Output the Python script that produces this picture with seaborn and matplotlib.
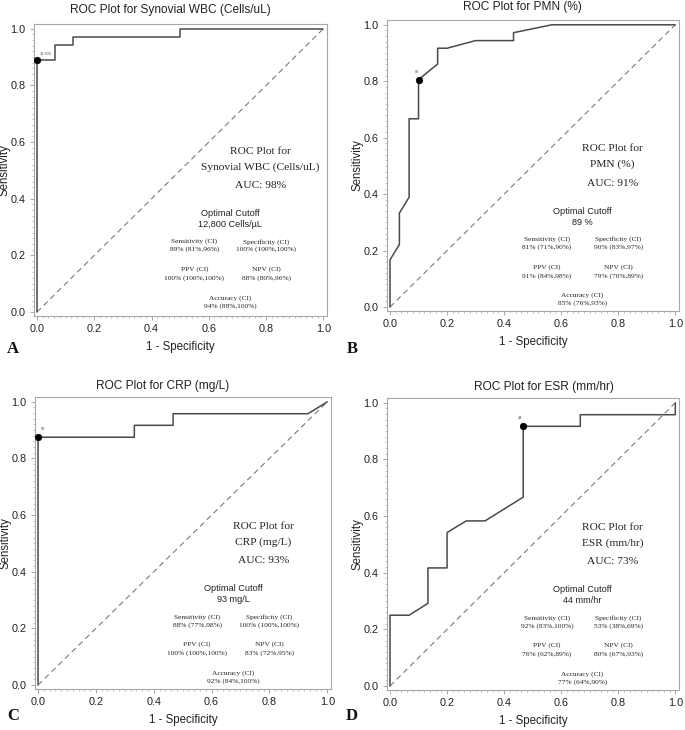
import matplotlib
matplotlib.use("Agg")
import matplotlib.pyplot as plt
import seaborn as sns
import pandas as pd
from matplotlib.ticker import MultipleLocator

# ---------------- data ----------------
wbc_fpr = [0, 0, 0.0625, 0.0625, 0.125, 0.125, 0.5, 0.5, 1.0]
wbc_tpr = [0, 0.889, 0.889, 0.944, 0.944, 0.972, 0.972, 1.0, 1.0]

pmn_fpr = [0, 0, 0.033, 0.033, 0.067, 0.067, 0.1, 0.1, 0.167, 0.167, 0.2, 0.3, 0.433, 0.433, 0.5, 0.567, 1.0]
pmn_tpr = [0, 0.167, 0.222, 0.333, 0.389, 0.667, 0.667, 0.806, 0.861, 0.917, 0.917, 0.944, 0.944, 0.972, 0.986, 1.0, 1.0]

crp_fpr = [0, 0, 0.333, 0.333, 0.467, 0.467, 0.933, 0.967, 1.0]
crp_tpr = [0, 0.875, 0.875, 0.917, 0.917, 0.958, 0.958, 0.979, 1.0]

esr_fpr = [0, 0, 0.067, 0.133, 0.133, 0.2, 0.2, 0.267, 0.333, 0.467, 0.467, 0.667, 0.667, 1.0, 1.0]
esr_tpr = [0, 0.25, 0.25, 0.292, 0.417, 0.417, 0.542, 0.583, 0.583, 0.667, 0.917, 0.917, 0.958, 0.958, 1.0]

cut_fpr = [0.0, 0.1, 0.0, 0.467]
cut_tpr = [0.889, 0.806, 0.875, 0.917]
cut_labels = ["12,800", "89", "93", "44"]

titles = ["ROC Plot for Synovial WBC (Cells/uL)", "ROC Plot for PMN (%)",
          "ROC Plot for CRP (mg/L)", "ROC Plot for ESR (mm/hr)"]
names = ["Synovial WBC (Cells/uL)", "PMN (%)", "CRP (mg/L)", "ESR (mm/hr)"]
aucs = ["98%", "91%", "93%", "73%"]
cutoffs = ["12,800 Cells/\u00b5L", "89 %", "93 mg/L", "44 mm/hr"]
sens = ["89% (81%,96%)", "81% (71%,90%)", "88% (77%,98%)", "92% (83%,100%)"]
spec = ["100% (100%,100%)", "90% (83%,97%)", "100% (100%,100%)", "53% (38%,69%)"]
ppv = ["100% (100%,100%)", "91% (84%,98%)", "100% (100%,100%)", "76% (62%,89%)"]
npv = ["88% (80%,96%)", "79% (70%,89%)", "83% (72%,95%)", "80% (67%,93%)"]
acc = ["94% (88%,100%)", "85% (76%,93%)", "92% (84%,100%)", "77% (64%,90%)"]
letters = ["A", "B", "C", "D"]
tick_vals = [0.0, 0.2, 0.4, 0.6, 0.8, 1.0]

curves = [(wbc_fpr, wbc_tpr), (pmn_fpr, pmn_tpr), (crp_fpr, crp_tpr), (esr_fpr, esr_tpr)]

# ---------------- style ----------------
sns.set_theme(style="white")
plt.rcParams["font.family"] = ["Liberation Sans", "DejaVu Sans"]

W, H = 685, 730
fig = plt.figure(figsize=(W / 100, H / 100), dpi=100)

# axes boxes in pixels: left, top, right, bottom
boxes = [(34, 24, 327, 316), (387, 20, 679, 311), (35, 397, 331, 689), (387, 398, 679, 690)]
title_pos = [(170, 10), (522, 7), (163, 386), (544, 387)]
letter_pos = [(13, 349), (352, 349), (13, 716), (352, 716)]
cut_offsets = [(2, 4), (-3, 5), (2, 5), (-4, 5)]
text_dy = [0.008, 0.0, 0.0, 0.0]

spine_col = "#a8a8a8"
curve_col = "#4a4a4a"
txt_col = "#222222"
serif = ["Liberation Serif", "DejaVu Serif"]

for i in range(4):
    l, t, r, b = boxes[i]
    ax = fig.add_axes([l / W, 1 - b / H, (r - l) / W, (b - t) / H])
    fpr, tpr = curves[i]
    df = pd.DataFrame({"fpr": fpr, "tpr": tpr})
    sns.lineplot(x=[0, 1], y=[0, 1], ax=ax, color="#7a7a7a", lw=0.8,
                 linestyle=(0, (5, 3.5)), estimator=None, sort=False)
    sns.lineplot(data=df, x="fpr", y="tpr", ax=ax, color=curve_col, lw=1.1,
                 estimator=None, sort=False)
    sns.scatterplot(x=[cut_fpr[i]], y=[cut_tpr[i]], ax=ax, color="black", s=22,
                    edgecolor="black", linewidth=0.5, zorder=5)
    ax.annotate(cut_labels[i], (cut_fpr[i], cut_tpr[i]), xytext=cut_offsets[i],
                textcoords="offset points", fontsize=2.8, color="#555555")

    ax.set_xlim(-0.0105, 1.013)
    ax.set_ylim(-0.014, 1.017)
    ax.set_xticks(tick_vals)
    ax.set_yticks(tick_vals)
    ax.set_xticklabels([f"{v:.1f}" for v in tick_vals])
    ax.set_yticklabels([f"{v:.1f}" for v in tick_vals])
    ax.xaxis.set_minor_locator(MultipleLocator(0.02))
    ax.yaxis.set_minor_locator(MultipleLocator(0.02))
    ax.tick_params(which="major", direction="out", length=3, width=0.7,
                   color=spine_col, labelsize=7.8, labelcolor="#222222", pad=3,
                   bottom=True, left=True)
    ax.tick_params(which="minor", direction="out", length=1.6, width=0.5,
                   color=spine_col, bottom=True, left=True)
    for sp in ax.spines.values():
        sp.set_color(spine_col)
        sp.set_linewidth(0.8)
    ax.set_xlabel("1 - Specificity", fontsize=8.3, color="#222222")
    ax.set_ylabel("Sensitivity", fontsize=8.3, color="#222222")
    ax.xaxis.set_label_coords(0.5, -25 / (b - t))
    ax.yaxis.set_label_coords(-23 / (r - l), 0.5)
    ax.grid(False)

    dy = text_dy[i]
    ax.text(0.78, 0.56 + dy, "ROC Plot for", family=serif, fontsize=8.2,
            ha="center", va="center", color=txt_col)
    ax.text(0.78, 0.505 + dy, names[i], family=serif, fontsize=8.2,
            ha="center", va="center", color=txt_col)
    ax.text(0.78, 0.439 + dy, "AUC: " + aucs[i], family=serif, fontsize=8.2,
            ha="center", va="center", color=txt_col)
    ax.text(0.675, 0.34 + dy, "Optimal Cutoff", fontsize=6.6,
            ha="center", va="center", color=txt_col)
    ax.text(0.675, 0.301 + dy, cutoffs[i], fontsize=6.6,
            ha="center", va="center", color=txt_col)
    small = dict(family=serif, fontsize=5.3, ha="center", va="center", color=txt_col)
    ax.text(0.55, 0.241 + dy, "Sensitivity (CI)", **small)
    ax.text(0.55, 0.213 + dy, sens[i], **small)
    ax.text(0.80, 0.241 + dy, "Specificity (CI)", **small)
    ax.text(0.80, 0.213 + dy, spec[i], **small)
    ax.text(0.55, 0.143 + dy, "PPV (CI)", **small)
    ax.text(0.55, 0.111 + dy, ppv[i], **small)
    ax.text(0.80, 0.143 + dy, "NPV (CI)", **small)
    ax.text(0.80, 0.111 + dy, npv[i], **small)
    ax.text(0.675, 0.042 + dy, "Accuracy (CI)", **small)
    ax.text(0.675, 0.013 + dy, acc[i], **small)

    tx, ty = title_pos[i]
    fig.text(tx / W, 1 - ty / H, titles[i], fontsize=8.6, ha="center", va="center",
             color="#222222")
    lx, ly = letter_pos[i]
    fig.text(lx / W, 1 - ly / H, letters[i], family=serif, fontsize=12,
             fontweight="bold", ha="center", va="center", color="#111111")

fig.savefig("out.png", dpi=100)
